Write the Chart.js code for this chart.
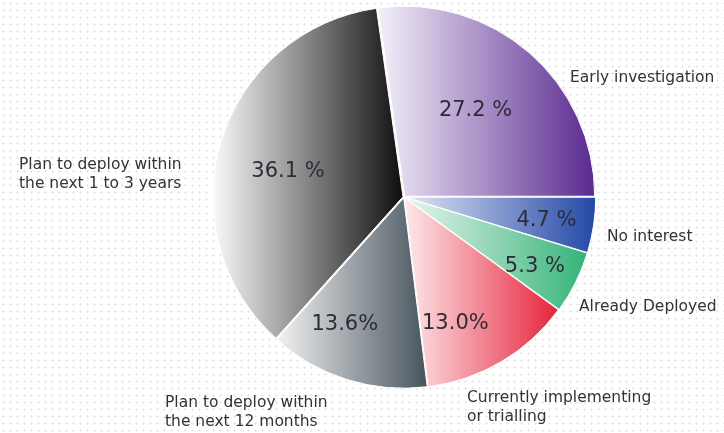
<!DOCTYPE html>
<html>
<head>
<meta charset="utf-8">
<script src="https://cdn.jsdelivr.net/npm/chart.js@4/dist/chart.umd.min.js"></script>
<style>
  html, body { margin: 0; padding: 0; background: #ffffff; }
  #wrap {
    width: 724px; height: 433px; position: relative;
    background-color: #ffffff;
    background-image: radial-gradient(circle, #e4e4e4 0.9px, rgba(255,255,255,0) 1.3px);
    background-size: 7px 7px;
  }
</style>
</head>
<body>
<div id="wrap"><canvas id="c" width="724" height="433"></canvas></div>
<script>
// ---- data ----
const categories = [
  "No interest",
  "Already Deployed",
  "Currently implementing\nor trialling",
  "Plan to deploy within\nthe next 12 months",
  "Plan to deploy within\nthe next 1 to 3 years",
  "Early investigation"
];
const values = [4.7, 5.3, 13.0, 13.6, 36.1, 27.2];
const valueLabels = ["4.7 %", "5.3 %", "13.0%", "13.6%", "36.1 %", "27.2 %"];

// ---- styling / layout (not data) ----
const gradStops = [
  ["#e2e7f4", "#2448a6"],
  ["#e9f6ef", "#35b378"],
  ["#fde9ea", "#e5243c"],
  ["#f2f2f2", "#47545d"],
  ["#fafafa", "#0e0e0e"],
  ["#f3eff9", "#5a2a90"]
];
const fallback = ["#5a78c0", "#7fcda4", "#f08a96", "#9aa3a9", "#777777", "#9a80c0"];
const labelAnchors = [ // outside text anchors [x, y]
  [607, 237],
  [579, 307],
  [467, 398],
  [165, 403],
  [19, 165],
  [570, 78]
];
// inner value label placement relative to arc mid angle: [angle nudge deg, radius fraction]
const valueNudge = [
  [1.0, 0.76],
  [1.5, 0.78],
  [8.5, 0.72],
  [7.5, 0.74],
  [-4.5, 0.625],
  [-1.3, 0.59]
];

function arcXRange(el) {
  const a0 = el.startAngle, a1 = el.endAngle;
  let xs = [el.x, el.x + el.outerRadius * Math.cos(a0), el.x + el.outerRadius * Math.cos(a1)];
  for (let k = -4; k <= 4; k++) {
    const a = k * Math.PI;
    if (a > a0 && a < a1) xs.push(el.x + el.outerRadius * Math.cos(a));
  }
  return [Math.min(...xs), Math.max(...xs)];
}

const bg = (ctx) => {
  const i = ctx.dataIndex;
  const meta = ctx.chart.getDatasetMeta(0);
  const el = meta && meta.data[i];
  if (!el || !el.outerRadius) return fallback[i];
  const [x0, x1] = arcXRange(el);
  const g = ctx.chart.ctx.createLinearGradient(x0, 0, x1, 0);
  g.addColorStop(0, gradStops[i][0]);
  g.addColorStop(1, gradStops[i][1]);
  return g;
};

const labelPlugin = {
  id: 'labels',
  afterDatasetsDraw(chart) {
    const c = chart.ctx;
    const meta = chart.getDatasetMeta(0);
    c.save();
    c.font = '21px "DejaVu Sans", Verdana, sans-serif';
    c.fillStyle = '#2e2b38';
    c.textAlign = 'center';
    c.textBaseline = 'middle';
    meta.data.forEach((el, i) => {
      const mid = (el.startAngle + el.endAngle) / 2 + valueNudge[i][0] * Math.PI / 180;
      const r = el.outerRadius * valueNudge[i][1];
      c.fillText(valueLabels[i], el.x + r * Math.cos(mid), el.y + r * Math.sin(mid));
    });
    c.font = '15.5px "DejaVu Sans", Verdana, sans-serif';
    c.fillStyle = '#333333';
    c.textAlign = 'left';
    c.textBaseline = 'middle';
    categories.forEach((txt, i) => {
      const [x, y] = labelAnchors[i];
      txt.split("\n").forEach((line, k) => c.fillText(line, x, y + k * 19));
    });
    c.restore();
  }
};

const chart = new Chart(document.getElementById('c'), {
  type: 'pie',
  data: {
    labels: categories,
    datasets: [{
      data: values,
      backgroundColor: bg,
      borderColor: '#ffffff',
      borderWidth: 1,
      hoverBorderWidth: 1,
      offset: 4,
      hoverOffset: 0
    }]
  },
  options: {
    responsive: false,
    animation: false,
    rotation: 90,
    radius: 190,
    layout: { padding: { left: 200, right: 116, top: 0, bottom: 39 } },
    plugins: { legend: { display: false }, tooltip: { enabled: false } },
    events: []
  },
  plugins: [labelPlugin]
});
chart.update('none');
</script>
</body>
</html>
